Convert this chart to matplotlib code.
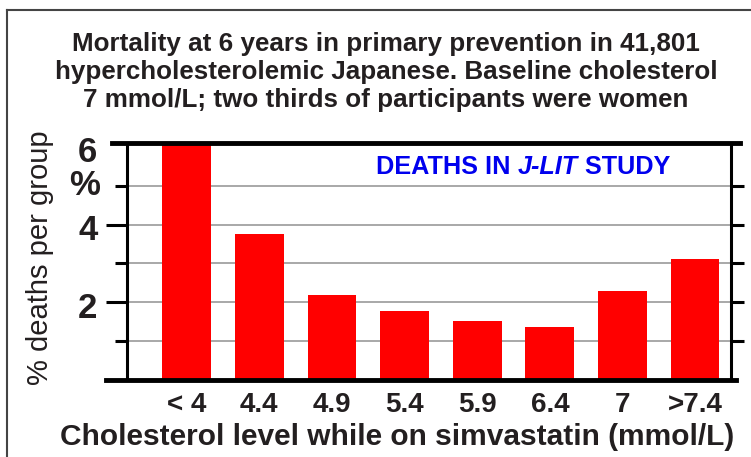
import matplotlib
matplotlib.use("Agg")
import matplotlib.pyplot as plt
from matplotlib.lines import Line2D
import numpy as np

# Werte
groups = ["< 4", "4.4", "4.9", "5.4", "5.9", "6.4", "7", ">7.4"]
deaths_pct = [6.15, 3.76, 2.19, 1.77, 1.52, 1.36, 2.29, 3.11]
major_ticks = [2, 4, 6]
minor_ticks = [1, 3, 5]

title = ("Mortality at 6 years in primary prevention in 41,801\n"
         "hypercholesterolemic Japanese. Baseline cholesterol\n"
         "7 mmol/L; two thirds of participants were women")

plt.rcParams['font.family'] = ['Liberation Sans', 'DejaVu Sans']
ink = "#231f20"

fig = plt.figure(figsize=(7.51, 4.57), dpi=100)
ax = fig.add_axes([0.1691, 0.1685, 0.8039, 0.5185])

x = np.arange(len(groups))
ax.bar(x, deaths_pct, width=0.67, color="#ff0000", zorder=3)

ax.set_xlim(-0.82, 7.49)
ax.set_ylim(0, 6.1)

# Gitterlinien
for v in minor_ticks + [2, 4]:
    ax.axhline(v, color="#9a9a9a", lw=1.2, zorder=1)

ax.set_yticks([2, 4])
ax.set_yticklabels([])
ax.set_yticks(minor_ticks, minor=True)
ax.tick_params(axis="y", which="major", length=15, width=2.2, direction="out", color="black")
ax.tick_params(axis="y", which="minor", length=9, width=2.2, direction="out", color="black")
ax.tick_params(axis="x", length=0)
ax.set_xticks(x)
ax.set_xticklabels([])

for side in ["left", "right"]:
    ax.spines[side].set_linewidth(2.2)
ax.spines["top"].set_visible(False)
ax.spines["bottom"].set_visible(False)

# rechte Achse: kurze Striche bei 1..5
ax2 = ax.twinx()
ax2.set_ylim(ax.get_ylim())
ax2.set_yticks([1, 2, 3, 4, 5])
ax2.set_yticklabels([])
ax2.tick_params(axis="y", length=9, width=2.2, direction="out", color="black")
for s in ax2.spines.values():
    s.set_visible(False)

# dicke Linien oben und unten, etwas über die Achsen hinaus
trans = ax.get_yaxis_transform()
ax.add_line(Line2D([-0.025, 1.015], [6.1, 6.1], transform=trans, color="black",
                   lw=3.5, clip_on=False, zorder=5))
ax.add_line(Line2D([-0.035, 1.008], [0, 0], transform=trans, color="black",
                   lw=3.5, clip_on=False, zorder=5))

# Beschriftungen der y-Achse
for v in major_ticks:
    ax.text(-0.065, v - 0.15, str(v), transform=trans, ha="center", va="center",
            fontsize=25, fontweight="bold", color=ink)
ax.text(-0.07, 5.0, "%", transform=trans, ha="center", va="center",
        fontsize=25, fontweight="bold", color=ink)

# Beschriftungen der x-Achse
for xi, lab in zip(x, groups):
    ax.text(xi, -0.65, lab, ha="center", va="center", fontsize=20,
            fontweight="bold", color=ink)

fig.text(0.529, 0.044, "Cholesterol level while on simvastatin (mmol/L)",
         ha="center", va="center", fontsize=21.5, fontweight="bold", color=ink)
fig.text(0.053, 0.437, "% deaths per group", rotation=90, ha="center",
         va="center", fontsize=21, color=ink)

fig.text(0.514, 0.843, title, ha="center", va="center", fontsize=18.7,
         fontweight="bold", color=ink, linespacing=1.2)

# Überschrift im Diagramm mit kursivem Teil
blue = "#0000ee"
t1 = ax.text(0.413, 0.9, "DEATHS IN ", transform=ax.transAxes, ha="left",
             va="center", fontsize=18.2, fontweight="bold", color=blue, zorder=6)
t2 = ax.annotate("J-LIT", xycoords=t1, xy=(1, 0.5), va="center", ha="left",
                 fontsize=18.2, fontweight="bold", style="italic", color=blue)
ax.annotate(" STUDY", xycoords=t2, xy=(1, 0.5), va="center", ha="left",
            fontsize=18.2, fontweight="bold", color=blue)

# Rahmen links und oben
fig.add_artist(Line2D([0.0093, 0.0093], [0, 0.978], transform=fig.transFigure,
                      color="#444444", lw=1.5))
fig.add_artist(Line2D([0.0093, 1.0], [0.978, 0.978], transform=fig.transFigure,
                      color="#444444", lw=1.5))

fig.savefig("out.png", dpi=100)
